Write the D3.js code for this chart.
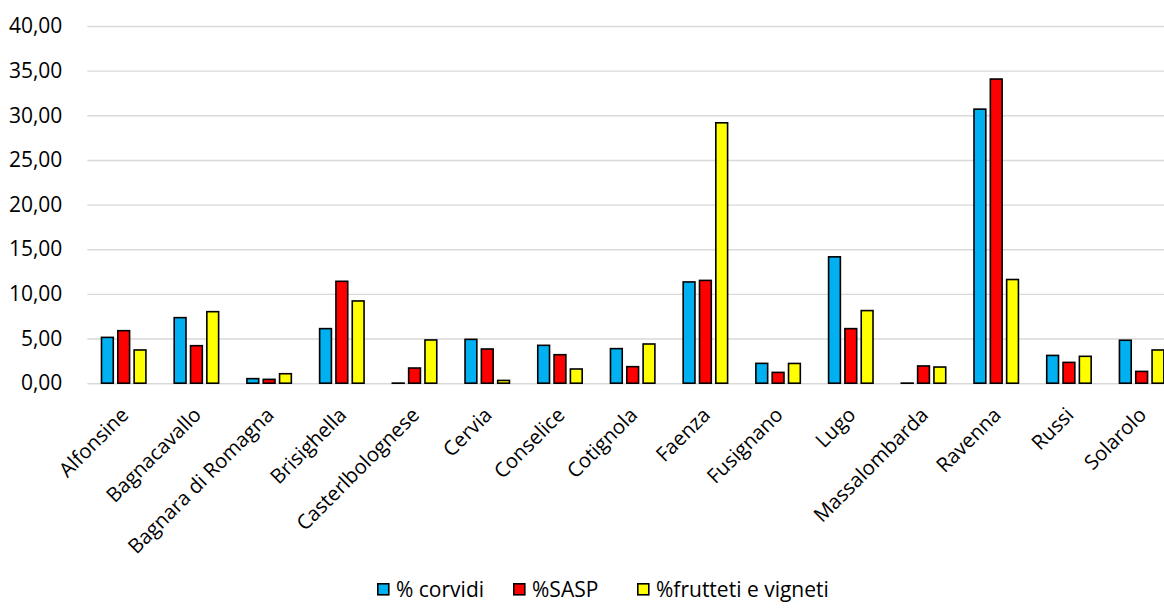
<!DOCTYPE html>
<html>
<head>
<meta charset="utf-8">
<script src="https://cdn.jsdelivr.net/npm/d3@7"></script>
<style>
  html, body { margin: 0; padding: 0; background: #fff; }
  svg { display: block; font-family: "Open Sans", sans-serif; }
</style>
</head>
<body>
<svg id="chart" width="1164" height="610"></svg>
<script>
// Comuni della provincia di Ravenna
const comuni = ["Alfonsine", "Bagnacavallo", "Bagnara di Romagna", "Brisighella",
  "Casterlbolognese", "Cervia", "Conselice", "Cotignola", "Faenza", "Fusignano",
  "Lugo", "Massalombarda", "Ravenna", "Russi", "Solarolo"];

const seriesNames = ["% corvidi", "%SASP", "%frutteti e vigneti"];
const seriesColors = ["#00B0F0", "#FF0000", "#FFFF00"];

const corvidi  = [5.22, 7.43, 0.60, 6.20, 0.10, 5.00, 4.33, 3.96, 11.43, 2.31, 14.24, 0.10, 30.78, 3.20, 4.90];
const sasp     = [5.97, 4.29, 0.52, 11.50, 1.79, 3.92, 3.28, 1.94, 11.60, 1.30, 6.20, 2.02, 34.15, 2.42, 1.41];
const frutteti = [3.81, 8.10, 1.15, 9.30, 4.93, 0.40, 1.68, 4.48, 29.25, 2.30, 8.22, 1.90, 11.70, 3.10, 3.81];

const yTicks = [0, 5, 10, 15, 20, 25, 30, 35, 40];

const seriesValues = [corvidi, sasp, frutteti];

const svg = d3.select("#chart");
const plot = { left: 87.35, right: 1178, top: 26.0, bottom: 383.2 };

const x0 = d3.scaleBand()
  .domain(comuni)
  .range([plot.left, plot.right])
  .paddingInner(0.367)
  .paddingOuter(0.1835);

const x1 = d3.scaleBand()
  .domain(seriesNames)
  .range([0, x0.bandwidth()])
  .paddingInner(0.18);

const y = d3.scaleLinear().domain([0, 40]).range([plot.bottom, plot.top]);

const fmt = v => d3.format(".2f")(v).replace(".", ",");

// Gridlines and value axis labels
const yAxis = d3.axisLeft(y)
  .tickValues(yTicks)
  .tickSize(-(plot.right - plot.left))
  .tickFormat(fmt)
  .tickPadding(25);

const gy = svg.append("g")
  .attr("transform", `translate(${plot.left},0)`)
  .call(yAxis);
gy.select(".domain").remove();
gy.selectAll(".tick line").attr("stroke", "#d9d9d9").attr("stroke-width", 1.4);
gy.selectAll(".tick text")
  .attr("fill", "#000")
  .attr("font-size", 21)
  .attr("font-family", "Open Sans, sans-serif");

// Bars
const groups = svg.append("g").selectAll("g")
  .data(comuni)
  .join("g")
  .attr("transform", d => `translate(${x0(d)},0)`);

const sw = 1.6;
groups.selectAll("rect")
  .data((d, i) => seriesNames.map((s, k) => ({ s, k, v: seriesValues[k][i] })))
  .join("rect")
  .attr("x", d => x1(d.s) + sw / 2)
  .attr("width", x1.bandwidth() - sw)
  .attr("y", d => y(d.v) + sw / 2)
  .attr("height", d => Math.max(0, y(0) - y(d.v) - sw / 2))
  .attr("fill", d => seriesColors[d.k])
  .attr("stroke", "#000")
  .attr("stroke-width", sw);

// Category labels
const xAxis = d3.axisBottom(x0).tickSize(0).tickPadding(0);
const gx = svg.append("g")
  .attr("transform", `translate(0,${plot.bottom})`)
  .call(xAxis);
gx.select(".domain").remove();
gx.selectAll(".tick text")
  .attr("fill", "#000")
  .attr("font-size", 20.3)
  .attr("font-family", "Open Sans, sans-serif")
  .attr("text-anchor", "end")
  .attr("dy", null)
  .attr("y", 0)
  .attr("transform", "translate(6,33) rotate(-45)");

// Legend
const legendX = [377, 513, 637];
const legend = svg.append("g").selectAll("g")
  .data(seriesNames)
  .join("g")
  .attr("transform", (d, i) => `translate(${legendX[i]},583)`);
legend.append("rect")
  .attr("x", 0.8).attr("y", 0.8)
  .attr("width", 11).attr("height", 11)
  .attr("fill", (d, i) => seriesColors[i])
  .attr("stroke", "#000")
  .attr("stroke-width", 1.6);
legend.append("text")
  .attr("x", 19)
  .attr("y", 13.5)
  .attr("font-size", 21)
  .attr("fill", "#000")
  .text(d => d);
</script>
</body>
</html>
